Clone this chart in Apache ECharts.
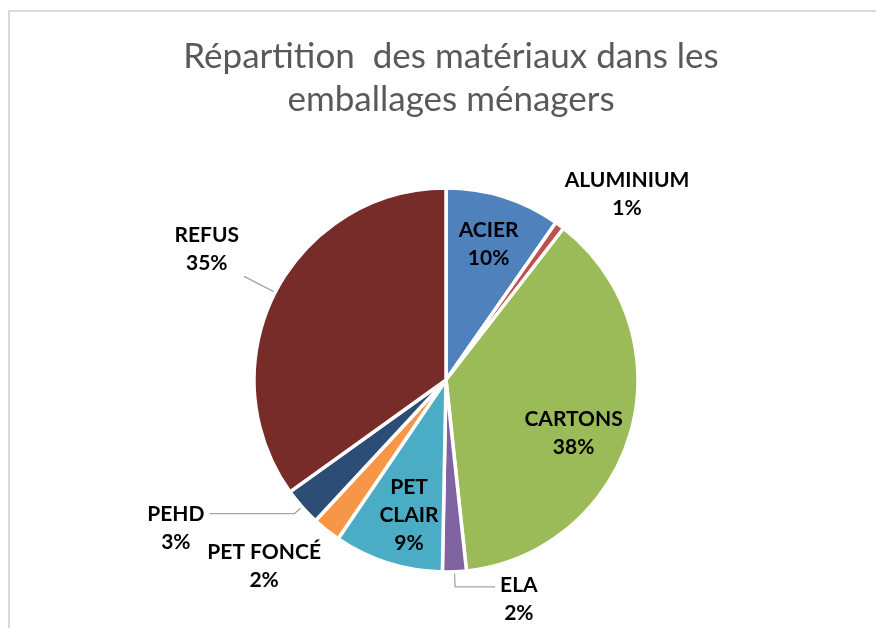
<!DOCTYPE html>
<html>
<head>
<meta charset="utf-8">
<script src="https://cdn.jsdelivr.net/npm/echarts@6/dist/echarts.min.js"></script>
<style>
html, body {margin: 0; padding: 0; background: #fff;}
#chart {width: 876px; height: 628px;}
</style>
</head>
<body>
<div id="chart"></div>
<script>
// matériaux, dans le sens horaire depuis midi
var names = ['ACIER', 'ALUMINIUM', 'CARTONS', 'ELA', 'PET CLAIR', 'PET FONCÉ', 'PEHD', 'REFUS'];
var shares = [9.7, 0.8, 37.8, 2.0, 9.2, 2.4, 3.2, 34.9];
var colors = ['#4F81BD', '#C0504D', '#9BBB59', '#8064A2', '#4BACC6', '#F79646', '#2C4D75', '#772C2A'];

// placement des étiquettes, même ordre que names
// in: étiquette dans la part ; sinon trait (length, length2) et décalage vertical (pad)
var placement = [
    {in: true,  pad: [0, 0, 0, 0]},
    {in: false, length: 10, length2: -6, line: false, pad: [0, 0, 46, 0]},
    {in: true,  pad: [28, 18, 0, 0]},
    {in: false, length: 15, length2: 40, line: true,  pad: [24, 0, 0, 0]},
    {in: true,  pad: [0, 0, 0, 12]},
    {in: false, length: 12, length2: -7, line: false, pad: [54, 0, 0, 0]},
    {in: false, length: 10, length2: 85, line: true,  pad: [30, 0, 0, 0]},
    {in: false, length: 35, length2: 0, line: true,  pad: [0, 0, 54, 0]}
];

var labelFont = 'Lato, "Liberation Sans", sans-serif';
var rich = {
    n: {fontFamily: labelFont, fontWeight: 'bold', fontSize: 21, color: '#000', align: 'center', lineHeight: 28},
    p: {fontFamily: labelFont, fontWeight: 'bold', fontSize: 21, color: '#000', align: 'center', lineHeight: 28}
};

var mainData = names.map(function (n, i) {
    var item = {name: n, value: shares[i], itemStyle: {color: colors[i]}};
    var o = placement[i];
    if (!o.in) {
        item.label = {show: true, position: 'outside', padding: o.pad};
        item.labelLine = {show: o.line, length: o.length, length2: o.length2};
    } else {
        item.label = {show: false};
        item.labelLine = {show: false};
    }
    return item;
});

var innerData = names.map(function (n, i) {
    var o = placement[i];
    return {
        name: n, value: shares[i],
        label: o.in ? {show: true, padding: o.pad} : {show: false}
    };
});

var chart = echarts.init(document.getElementById('chart'));
chart.setOption({
    animation: false,
    graphic: [{
        type: 'rect',
        shape: {x: 9, y: 11, width: 1000, height: 800},
        style: {fill: 'none', stroke: '#D9D9D9', lineWidth: 2},
        silent: true
    }],
    title: {
        text: 'Répartition  des matériaux dans les\nemballages ménagers',
        left: 446,
        top: 30,
        textAlign: 'center',
        textStyle: {
            fontFamily: labelFont,
            fontWeight: 'normal',
            fontSize: 35,
            lineHeight: 43,
            color: '#595959'
        }
    },
    series: [{
        type: 'pie',
        center: [446, 380],
        radius: 192,
        startAngle: 90,
        percentPrecision: 0,
        avoidLabelOverlap: false,
        labelLayout: {hideOverlap: false},
        silent: true,
        itemStyle: {borderColor: '#fff', borderWidth: 3.5},
        label: {
            formatter: function (p) {
                return '{n|' + p.name + '}\n{p|' + p.percent + '%}';
            },
            rich: rich
        },
        labelLine: {
            lineStyle: {color: '#A6A6A6', width: 1.3},
            smooth: false
        },
        data: mainData
    }, {
        type: 'pie',
        center: [446, 380],
        radius: [118, 160],
        startAngle: 90,
        percentPrecision: 0,
        avoidLabelOverlap: false,
        labelLayout: {hideOverlap: false},
        silent: true,
        itemStyle: {color: 'rgba(0,0,0,0)', borderWidth: 0},
        label: {
            position: 'inside',
            formatter: function (p) {
                return '{n|' + p.name.split(' ').join('}\n{n|') + '}\n{p|' + p.percent + '%}';
            },
            rich: rich
        },
        labelLine: {show: false},
        emphasis: {disabled: true},
        data: innerData
    }]
});
</script>
</body>
</html>
